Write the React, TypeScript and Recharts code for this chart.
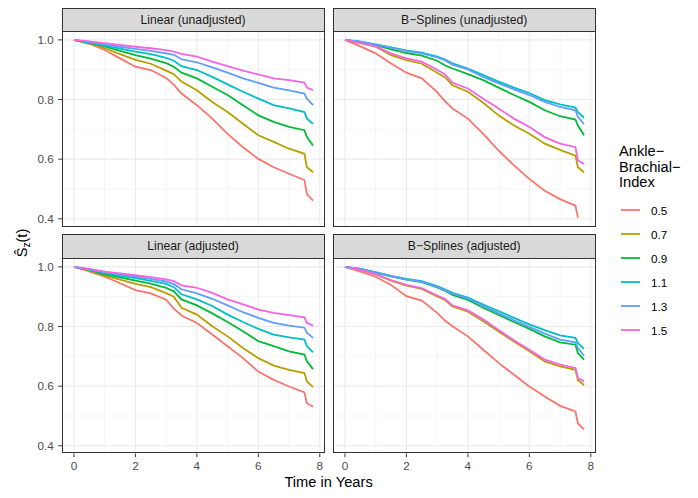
import React from "react";
import { LineChart, Line, XAxis, YAxis, ReferenceLine } from "recharts";

// ---------- data ----------
const times = [0, 0.5, 1, 1.5, 2, 2.5, 3, 3.25, 3.5, 4, 4.5, 5, 5.5, 6, 6.5, 7, 7.5, 7.58, 7.78];
const abiLevels = ["0.5", "0.7", "0.9", "1.1", "1.3", "1.5"];
const seriesColors = ["#F8766D", "#B79F00", "#00BA38", "#00BFC4", "#619CFF", "#F564E3"];
const xTicks = [0, 2, 4, 6, 8];
const xMinorTicks = [1, 3, 5, 7];
const yTicks = [0.4, 0.6, 0.8, 1.0];
const yMinorTicks = [0.5, 0.7, 0.9];
const panelTitles = ["Linear (unadjusted)", "B\u2212Splines (unadjusted)", "Linear (adjusted)", "B\u2212Splines (adjusted)"];

// Linear (unadjusted)
const linUnadj05 = [1.0, 0.987, 0.966, 0.938, 0.91, 0.899, 0.872, 0.85, 0.82, 0.781, 0.736, 0.685, 0.64, 0.601, 0.573, 0.551, 0.53, 0.483, 0.461];
const linUnadj07 = [1.0, 0.988, 0.972, 0.952, 0.933, 0.92, 0.897, 0.885, 0.86, 0.831, 0.792, 0.758, 0.719, 0.68, 0.658, 0.635, 0.618, 0.573, 0.556];
const linUnadj09 = [1.0, 0.99, 0.978, 0.963, 0.949, 0.937, 0.922, 0.91, 0.89, 0.871, 0.843, 0.815, 0.781, 0.747, 0.725, 0.708, 0.697, 0.674, 0.646];
const linUnadj11 = [1.0, 0.991, 0.981, 0.971, 0.961, 0.952, 0.94, 0.93, 0.912, 0.899, 0.876, 0.851, 0.826, 0.803, 0.781, 0.77, 0.758, 0.736, 0.719];
const linUnadj13 = [1.0, 0.993, 0.985, 0.977, 0.97, 0.963, 0.955, 0.95, 0.935, 0.925, 0.908, 0.89, 0.871, 0.856, 0.84, 0.831, 0.82, 0.803, 0.781];
const linUnadj15 = [1.0, 0.995, 0.989, 0.983, 0.977, 0.972, 0.966, 0.961, 0.953, 0.944, 0.927, 0.912, 0.897, 0.884, 0.871, 0.865, 0.857, 0.84, 0.831];

// B-Splines (unadjusted)
const bsUnadj05 = [1.0, 0.978, 0.955, 0.921, 0.89, 0.871, 0.825, 0.795, 0.77, 0.736, 0.685, 0.629, 0.579, 0.534, 0.494, 0.466, 0.444, 0.404, null];
const bsUnadj07 = [1.0, 0.989, 0.977, 0.949, 0.932, 0.92, 0.89, 0.875, 0.848, 0.826, 0.789, 0.747, 0.713, 0.685, 0.652, 0.631, 0.612, 0.573, 0.556];
const bsUnadj09 = [1.0, 0.993, 0.982, 0.968, 0.956, 0.947, 0.93, 0.915, 0.904, 0.885, 0.865, 0.84, 0.815, 0.792, 0.764, 0.744, 0.733, 0.713, 0.68];
const bsUnadj11 = [1.0, 0.994, 0.985, 0.975, 0.965, 0.957, 0.944, 0.935, 0.921, 0.904, 0.882, 0.86, 0.84, 0.822, 0.798, 0.784, 0.773, 0.758, 0.739];
const bsUnadj13 = [1.0, 0.994, 0.984, 0.974, 0.963, 0.955, 0.941, 0.932, 0.917, 0.901, 0.876, 0.854, 0.834, 0.815, 0.792, 0.775, 0.764, 0.742, 0.717];
const bsUnadj15 = [1.0, 0.99, 0.978, 0.955, 0.938, 0.927, 0.9, 0.885, 0.856, 0.837, 0.803, 0.77, 0.736, 0.708, 0.674, 0.652, 0.64, 0.596, 0.584];

// Linear (adjusted)
const linAdj05 = [1.0, 0.985, 0.967, 0.945, 0.922, 0.911, 0.89, 0.86, 0.837, 0.812, 0.773, 0.734, 0.694, 0.649, 0.621, 0.599, 0.579, 0.543, 0.531];
const linAdj07 = [1.0, 0.988, 0.971, 0.957, 0.943, 0.932, 0.912, 0.9, 0.863, 0.84, 0.801, 0.767, 0.728, 0.694, 0.669, 0.655, 0.644, 0.616, 0.597];
const linAdj09 = [1.0, 0.99, 0.975, 0.965, 0.954, 0.944, 0.93, 0.918, 0.891, 0.871, 0.844, 0.815, 0.784, 0.751, 0.734, 0.717, 0.706, 0.683, 0.657];
const linAdj11 = [1.0, 0.991, 0.979, 0.97, 0.962, 0.953, 0.943, 0.932, 0.908, 0.891, 0.869, 0.84, 0.815, 0.792, 0.773, 0.764, 0.756, 0.734, 0.713];
const linAdj13 = [1.0, 0.992, 0.982, 0.975, 0.967, 0.96, 0.951, 0.942, 0.925, 0.911, 0.893, 0.871, 0.848, 0.829, 0.812, 0.803, 0.796, 0.779, 0.762];
const linAdj15 = [1.0, 0.993, 0.984, 0.978, 0.972, 0.966, 0.958, 0.952, 0.938, 0.93, 0.913, 0.891, 0.874, 0.857, 0.846, 0.838, 0.831, 0.812, 0.803];

// B-Splines (adjusted)
const bsAdj05 = [1.0, 0.984, 0.967, 0.939, 0.902, 0.887, 0.846, 0.82, 0.801, 0.767, 0.722, 0.678, 0.638, 0.599, 0.565, 0.534, 0.515, 0.475, 0.455];
const bsAdj07 = [1.0, 0.99, 0.975, 0.954, 0.937, 0.926, 0.901, 0.889, 0.867, 0.85, 0.818, 0.783, 0.75, 0.717, 0.683, 0.666, 0.655, 0.62, 0.604];
const bsAdj09 = [1.0, 0.993, 0.981, 0.968, 0.957, 0.949, 0.931, 0.92, 0.906, 0.889, 0.863, 0.839, 0.815, 0.792, 0.767, 0.747, 0.739, 0.711, 0.689];
const bsAdj11 = [1.0, 0.993, 0.982, 0.97, 0.96, 0.952, 0.936, 0.925, 0.913, 0.897, 0.874, 0.852, 0.829, 0.807, 0.788, 0.77, 0.762, 0.745, 0.725];
const bsAdj13 = [1.0, 0.993, 0.981, 0.969, 0.958, 0.95, 0.933, 0.922, 0.91, 0.894, 0.869, 0.845, 0.821, 0.799, 0.776, 0.756, 0.747, 0.728, 0.702];
const bsAdj15 = [1.0, 0.99, 0.976, 0.956, 0.94, 0.929, 0.904, 0.893, 0.871, 0.854, 0.824, 0.788, 0.754, 0.722, 0.689, 0.672, 0.661, 0.627, 0.616];

const panelSeries = [
  [linUnadj05, linUnadj07, linUnadj09, linUnadj11, linUnadj13, linUnadj15],
  [bsUnadj05, bsUnadj07, bsUnadj09, bsUnadj11, bsUnadj13, bsUnadj15],
  [linAdj05, linAdj07, linAdj09, linAdj11, linAdj13, linAdj15],
  [bsAdj05, bsAdj07, bsAdj09, bsAdj11, bsAdj13, bsAdj15],
];

// ---------- layout ----------
const FONT = "'Liberation Sans', Arial, Helvetica, sans-serif";
const W = 263;
const H = 195.5;
const COLS = [61.5, 332.7];
const ROWS = [31, 257.7];
const STRIP_H = 24.5;
const Y_AXIS_W = 45;
const X_AXIS_H = 24;
const X_DOMAIN: [number, number] = [-0.389, 8.169];
const Y_DOMAIN: [number, number] = [0.3742, 1.0298];

function buildRows(series: (number | null)[][]) {
  return times.map((t, i) => {
    const row: Record<string, number | null> = { t };
    abiLevels.forEach((lvl, k) => {
      row["s" + lvl] = series[k][i];
    });
    return row;
  });
}

function Panel({ idx }: { idx: number }) {
  const col = idx % 2;
  const row = Math.floor(idx / 2);
  const showY = col === 0;
  const showX = row === 1;
  const px = COLS[col];
  const py = ROWS[row];
  const yw = showY ? Y_AXIS_W : 0;
  const xh = showX ? X_AXIS_H : 0;
  const data = buildRows(panelSeries[idx]);
  return (
    <>
      <div
        style={{
          position: "absolute",
          left: px - yw,
          top: py,
          width: W + yw,
          height: H + xh,
        }}
      >
        <LineChart width={W + yw} height={H + xh} data={data} margin={{ top: 0, right: 0, bottom: 0, left: 0 }}>
          <XAxis
            dataKey="t"
            type="number"
            domain={X_DOMAIN}
            ticks={xTicks}
            allowDataOverflow
            hide={!showX}
            height={X_AXIS_H}
            axisLine={false}
            tickLine={{ stroke: "#333333", strokeWidth: 1 }}
            tickSize={3.7}
            tickMargin={4}
            tick={{ fill: "#4D4D4D", fontSize: 11.7, fontFamily: FONT }}
          />
          <YAxis
            type="number"
            domain={Y_DOMAIN}
            ticks={yTicks}
            allowDataOverflow
            hide={!showY}
            width={Y_AXIS_W}
            axisLine={false}
            tickLine={{ stroke: "#333333", strokeWidth: 1 }}
            tickSize={3.7}
            tickMargin={4.5}
            tickFormatter={(v: number) => v.toFixed(1)}
            tick={{ fill: "#4D4D4D", fontSize: 11.7, fontFamily: FONT }}
          />
          {xMinorTicks.map((v) => (
            <ReferenceLine key={"xm" + v} x={v} stroke="#EBEBEB" strokeWidth={0.55} />
          ))}
          {yMinorTicks.map((v) => (
            <ReferenceLine key={"ym" + v} y={v} stroke="#EBEBEB" strokeWidth={0.55} />
          ))}
          {xTicks.map((v) => (
            <ReferenceLine key={"xM" + v} x={v} stroke="#EBEBEB" strokeWidth={1.1} />
          ))}
          {yTicks.map((v) => (
            <ReferenceLine key={"yM" + v} y={v} stroke="#EBEBEB" strokeWidth={1.1} />
          ))}
          {abiLevels.map((lvl, k) => (
            <Line
              key={lvl}
              dataKey={"s" + lvl}
              type="linear"
              stroke={seriesColors[k]}
              strokeWidth={1.8}
              dot={false}
              activeDot={false}
              isAnimationActive={false}
              connectNulls={false}
            />
          ))}
        </LineChart>
      </div>
      <div
        style={{
          position: "absolute",
          left: px,
          top: py,
          width: W,
          height: H,
          border: "1px solid #333333",
          boxSizing: "border-box",
          pointerEvents: "none",
        }}
      />
      <div
        style={{
          position: "absolute",
          left: px,
          top: py - STRIP_H + 1,
          width: W,
          height: STRIP_H,
          background: "#D9D9D9",
          border: "1px solid #333333",
          boxSizing: "border-box",
          fontFamily: FONT,
          fontSize: 12.2,
          fontWeight: 400,
          color: "#1A1A1A",
          display: "flex",
          alignItems: "center",
          justifyContent: "center",
        }}
      >
        {panelTitles[idx]}
      </div>
    </>
  );
}

export default function App() {
  return (
    <div
      style={{
        position: "absolute",
        left: 0,
        top: 0,
        width: 698,
        height: 498,
        background: "#FFFFFF",
        overflow: "hidden",
        fontFamily: FONT,
        fontWeight: 400,
      }}
    >
      {[0, 1, 2, 3].map((i) => (
        <Panel key={i} idx={i} />
      ))}

      {/* y axis title */}
      <svg style={{ position: "absolute", left: 0, top: 0 }} width={40} height={498}>
        <text
          transform="translate(27,243) rotate(-90)"
          textAnchor="middle"
          fontFamily={FONT}
          fontSize={14.67}
          fill="#000000"
        >
          {"\u015C"}
          <tspan fontSize={10} dy={3}>z</tspan>
          <tspan fontSize={14.67} dy={-3}>(t)</tspan>
        </text>
      </svg>

      {/* x axis title */}
      <div
        style={{
          position: "absolute",
          left: COLS[0],
          width: COLS[1] + W - COLS[0],
          top: 474.6,
          lineHeight: "14.67px",
          fontSize: 14.67,
          textAlign: "center",
          color: "#000000",
        }}
      >
        Time in Years
      </div>

      {/* legend */}
      <div
        style={{
          position: "absolute",
          left: 619,
          top: 144,
          fontSize: 14.67,
          lineHeight: "15.7px",
          color: "#000000",
        }}
      >
        <div>{"Ankle\u2212"}</div>
        <div>{"Brachial\u2212"}</div>
        <div>Index</div>
      </div>
      {abiLevels.map((lvl, k) => (
        <div
          key={lvl}
          style={{
            position: "absolute",
            left: 620,
            top: 210 + 24 * k - 9,
            height: 18,
            display: "flex",
            alignItems: "center",
          }}
        >
          <svg width={21} height={18}>
            <line x1={1} x2={20} y1={9} y2={9} stroke={seriesColors[k]} strokeWidth={1.8} />
          </svg>
          <span style={{ marginLeft: 10, fontSize: 11.7, color: "#000000" }}>{lvl}</span>
        </div>
      ))}
    </div>
  );
}
